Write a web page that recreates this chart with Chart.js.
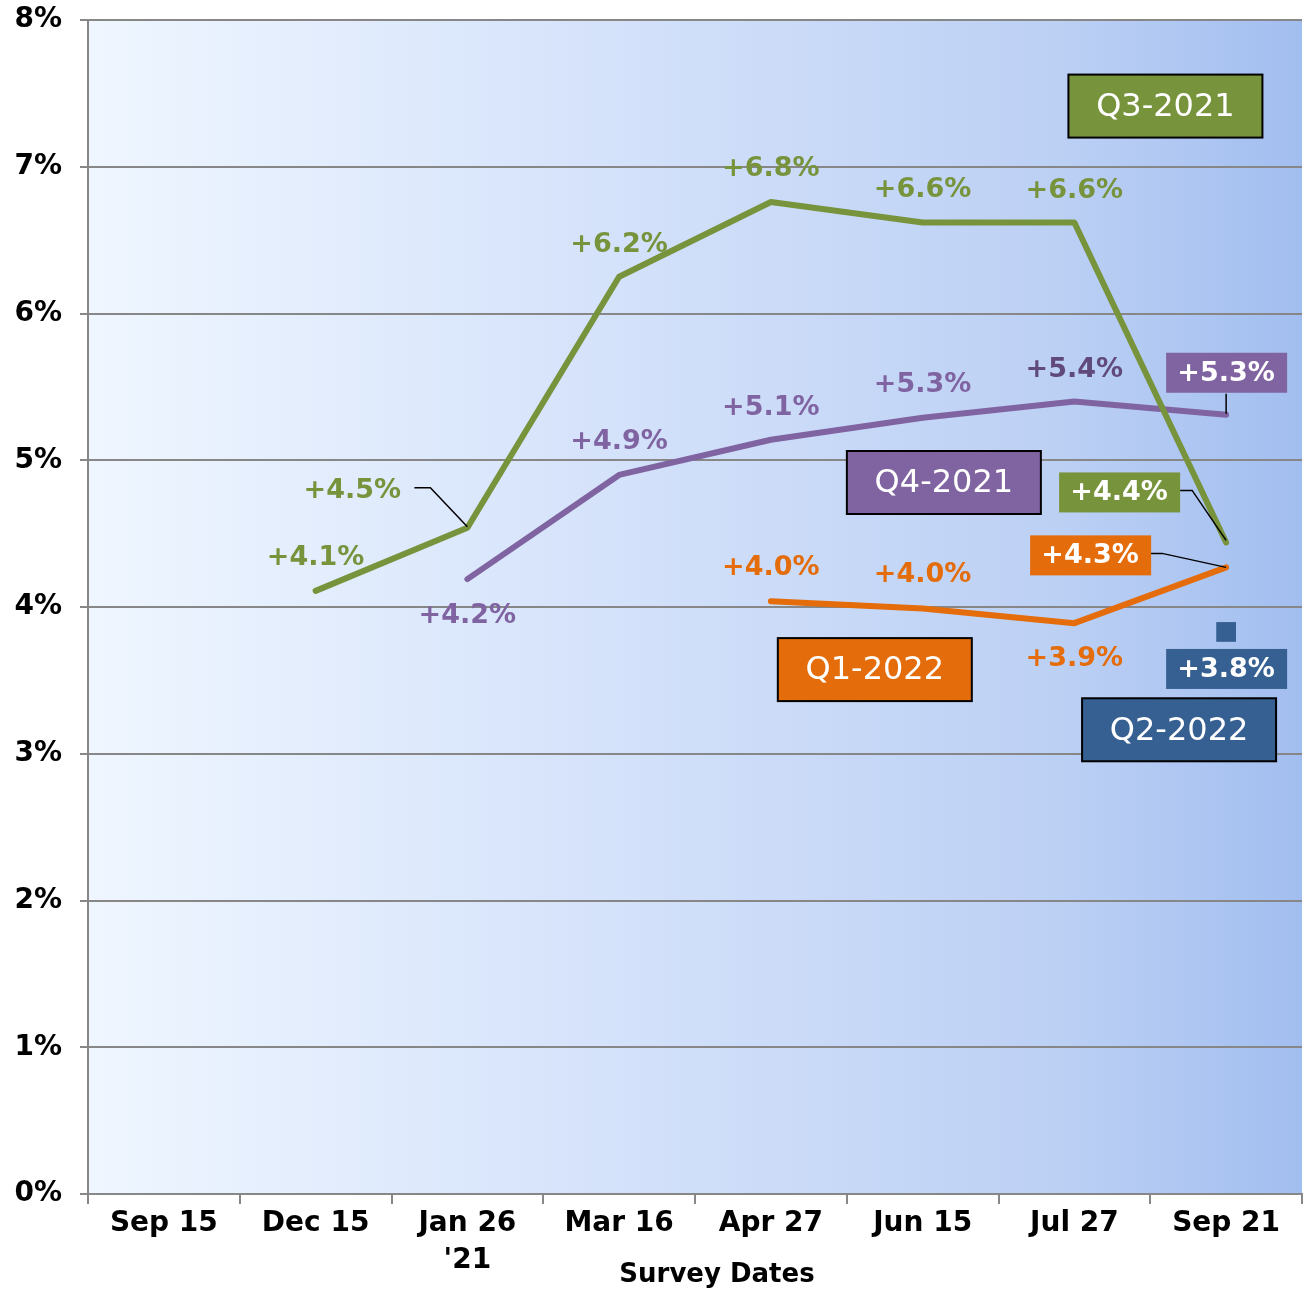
<!DOCTYPE html>
<html>
<head>
<meta charset="utf-8">
<script src="https://cdn.jsdelivr.net/npm/chart.js@4"></script>
<style>
  body { margin: 0; background: #fff; }
  #wrap { width: 1304px; height: 1292px; }
</style>
</head>
<body>
<div id="wrap"><canvas id="myChart" width="1304" height="1292"></canvas></div>
<script>
// data
const categories = [['Sep 15'], ['Dec 15'], ['Jan 26', "'21"], ['Mar 16'], ['Apr 27'], ['Jun 15'], ['Jul 27'], ['Sep 21']];
const yTicks = [0, 1, 2, 3, 4, 5, 6, 7, 8];

const q3_2021 = [null, 4.11, 4.54, 6.25, 6.76, 6.62, 6.62, 4.44];
const q4_2021 = [null, null, 4.19, 4.90, 5.14, 5.29, 5.40, 5.31];
const q1_2022 = [null, null, null, null, 4.04, 3.99, 3.89, 4.27];
const q2_2022 = [null, null, null, null, null, null, null, 3.83];

const q3Labels = [null, '+4.1%', '+4.5%', '+6.2%', '+6.8%', '+6.6%', '+6.6%', '+4.4%'];
const q4Labels = [null, null, '+4.2%', '+4.9%', '+5.1%', '+5.3%', '+5.4%', '+5.3%'];
const q1Labels = [null, null, null, null, '+4.0%', '+4.0%', '+3.9%', '+4.3%'];
const q2Labels = [null, null, null, null, null, null, null, '+3.8%'];

const seriesNames = ['Q3-2021', 'Q4-2021', 'Q1-2022', 'Q2-2022'];
// where the name boxes sit, in axis units (category index, percent)
const nameBoxX = [6.6, 5.14, 4.685, 6.69];
const nameBoxY = [7.41, 4.845, 3.57, 3.16];

const colors = ['#77933c', '#8064a2', '#e46c0a', '#376092'];

// label placement: [dx, dy, boxed, leader points relative to data point, text colour]
const labelStyle = [
  { 1: [0, -34], 2: [-115, -38, false, [[-53, -40], [-37, -40], [0, -1]]], 3: [0, -33], 4: [0, -34], 5: [0, -34], 6: [0, -33],
    7: [-107, -50, true, [[-46, -52], [-34, -52], [0, -2]]] },
  { 2: [0, 36], 3: [0, -34], 4: [0, -33], 5: [0, -34], 6: [0, -33, false, null, '#604a7b'],
    7: [0, -42, true, [[0, -21], [0, -1]]] },
  { 4: [0, -34], 5: [0, -34], 6: [0, 35], 7: [-136, -12, true, [[-76, -14], [-64, -14], [0, 0]]] },
  { 7: [0, 37, true] }
];
const allLabels = [q3Labels, q4Labels, q1Labels, q2Labels];

const FONT = "'DejaVu Sans', Verdana, sans-serif";

const bgPlugin = {
  id: 'bg',
  beforeDraw(chart) {
    const { ctx, chartArea: a } = chart;
    const g = ctx.createLinearGradient(a.left, 0, a.right, 0);
    g.addColorStop(0, '#eff6ff');
    g.addColorStop(0.45, '#d3e1fa');
    g.addColorStop(0.8, '#bcd0f4');
    g.addColorStop(1, '#a2bef0');
    ctx.save();
    ctx.fillStyle = g;
    ctx.fillRect(a.left, a.top, a.right - a.left, a.bottom - a.top);
    ctx.restore();
  }
};

const labelPlugin = {
  id: 'labels',
  afterDatasetsDraw(chart) {
    const ctx = chart.ctx;
    const xs = chart.scales.x, ys = chart.scales.y;
    ctx.save();
    ctx.textAlign = 'center';
    ctx.textBaseline = 'middle';

    allLabels.forEach((labels, d) => {
      const meta = chart.getDatasetMeta(d);
      labels.forEach((txt, i) => {
        if (!txt) return;
        const pt = meta.data[i];
        const st = labelStyle[d][i] || [0, -34];
        const x = pt.x + st[0], y = pt.y + st[1];
        // leader line
        if (st[3]) {
          ctx.strokeStyle = '#000';
          ctx.lineWidth = 1.5;
          ctx.beginPath();
          st[3].forEach((p, k) => {
            if (k === 0) ctx.moveTo(pt.x + p[0], pt.y + p[1]);
            else ctx.lineTo(pt.x + p[0], pt.y + p[1]);
          });
          ctx.stroke();
        }
        ctx.font = 'bold 27px ' + FONT;
        if (st[2]) {
          ctx.fillStyle = colors[d];
          ctx.fillRect(x - 60, y - 20, 121, 40);
          ctx.fillStyle = '#fff';
        } else {
          ctx.fillStyle = st[4] || colors[d];
        }
        ctx.fillText(txt, x, y + 1);
      });
    });

    // series name boxes
    seriesNames.forEach((name, d) => {
      const cx = xs.getPixelForValue(nameBoxX[d]);
      const cy = ys.getPixelForValue(nameBoxY[d]);
      ctx.fillStyle = colors[d];
      ctx.fillRect(cx - 97, cy - 32, 194, 63);
      ctx.strokeStyle = '#000';
      ctx.lineWidth = 2;
      ctx.strokeRect(cx - 97, cy - 32, 194, 63);
      ctx.fillStyle = '#fff';
      ctx.font = '32px ' + FONT;
      ctx.fillText(name, cx, cy + 1);
    });

    // axis title, sits a little right of the plot centre
    const a = chart.chartArea;
    ctx.fillStyle = '#000';
    ctx.font = 'bold 26px ' + FONT;
    ctx.fillText('Survey Dates', (a.left + a.right) / 2 + 22, 1275);
    ctx.restore();
  }
};

function lineSet(label, data, color) {
  return {
    label: label,
    data: data,
    borderColor: color,
    backgroundColor: color,
    borderWidth: 6,
    borderCapStyle: 'round',
    borderJoinStyle: 'round',
    tension: 0,
    pointRadius: 0,
    spanGaps: false
  };
}

const ctx = document.getElementById('myChart');
const myChart = new Chart(ctx, {
  type: 'line',
  data: {
    labels: categories,
    datasets: [
      lineSet('Q3-2021', q3_2021, colors[0]),
      lineSet('Q4-2021', q4_2021, colors[1]),
      lineSet('Q1-2022', q1_2022, colors[2]),
      {
        label: 'Q2-2022',
        data: q2_2022,
        showLine: false,
        pointStyle: 'rect',
        pointRadius: 14,
        pointBackgroundColor: colors[3],
        pointBorderWidth: 0
      }
    ]
  },
  options: {
    responsive: false,
    animation: false,
    layout: { autoPadding: false, padding: { top: 20, right: 2, left: 0, bottom: 0 } },
    plugins: {
      legend: { display: false },
      tooltip: { enabled: false }
    },
    scales: {
      x: {
        offset: true,
        grid: { offset: true, drawOnChartArea: false, drawTicks: true, tickLength: 10, color: '#878787', lineWidth: 2 },
        border: { color: '#878787', width: 2 },
        ticks: { color: '#000', font: { family: FONT, size: 28, weight: 'bold', lineHeight: 1.32 }, padding: 1, maxRotation: 0, autoSkip: false },
        afterFit(scale) { scale.height = 98; scale.paddingLeft = 0; scale.paddingRight = 0; }
      },
      y: {
        min: 0,
        max: 8,
        afterBuildTicks(scale) { scale.ticks = yTicks.map(v => ({ value: v })); },
        grid: { color: '#878787', lineWidth: 2, tickLength: 8 },
        border: { color: '#878787', width: 2 },
        ticks: { color: '#000', font: { family: FONT, size: 28, weight: 'bold' }, padding: 18, callback: v => v + '%' },
        afterFit(scale) { scale.width = 88; scale.paddingTop = 0; scale.paddingBottom = 0; }
      }
    }
  },
  plugins: [bgPlugin, labelPlugin]
});
</script>
</body>
</html>
